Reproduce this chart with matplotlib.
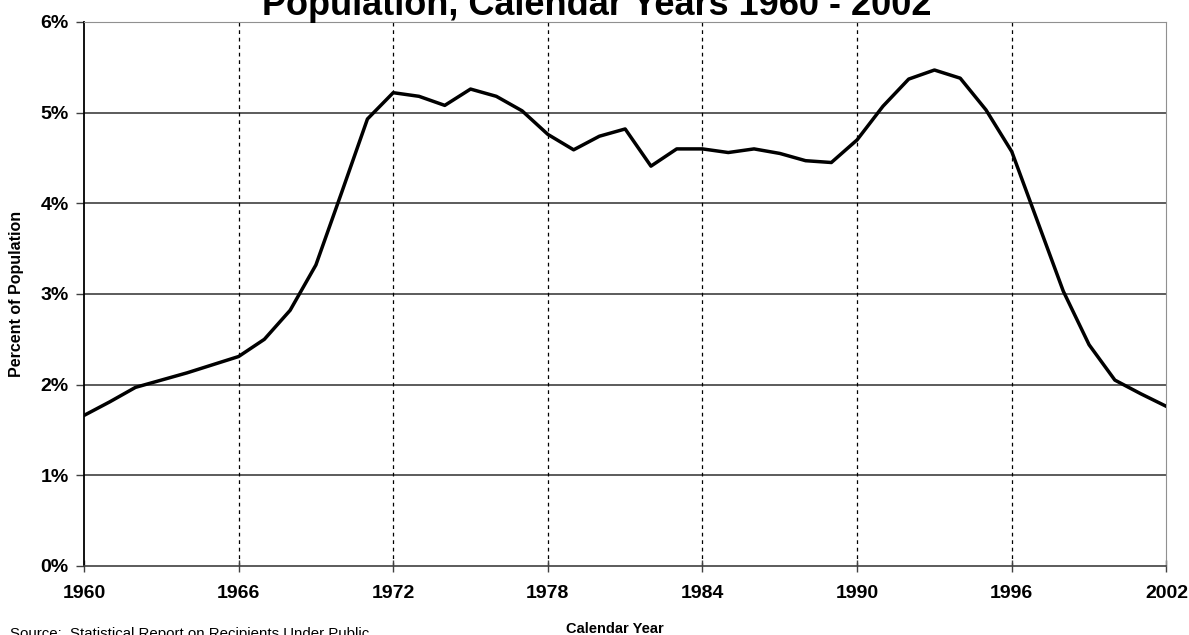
import matplotlib
matplotlib.use("Agg")
import matplotlib.pyplot as plt
from matplotlib.ticker import FuncFormatter

plt.rcParams['font.family'] = ['Liberation Sans', 'DejaVu Sans']

# share of population receiving aid, by calendar year
years = list(range(1960, 2003))
percent = [1.66, 1.81, 1.97, 2.05, 2.13, 2.22, 2.31, 2.50, 2.82, 3.32,
           4.12, 4.93, 5.22, 5.18, 5.08, 5.26, 5.18, 5.02, 4.76, 4.59,
           4.74, 4.82, 4.41, 4.60, 4.60, 4.56, 4.60, 4.55, 4.47, 4.45,
           4.70, 5.07, 5.37, 5.47, 5.38, 5.03, 4.57, 3.80, 3.03, 2.44,
           2.05, 1.90, 1.76]
x_ticks = [1960, 1966, 1972, 1978, 1984, 1990, 1996, 2002]
y_ticks = [0, 1, 2, 3, 4, 5, 6]

fig = plt.figure(figsize=(11.89, 6.35), dpi=100)
ax = fig.add_axes([0.0706, 0.1087, 0.9104, 0.8567])

# horizontal grid, solid
for v in y_ticks[1:-1]:
    ax.axhline(v, color='#404040', linewidth=1.2, zorder=1)
# vertical grid, dotted
for yr in x_ticks[1:-1]:
    ax.axvline(yr, color='black', linewidth=0.9, linestyle=(0, (3, 3)), zorder=1)

ax.plot(years, percent, color='black', linewidth=2.5, zorder=3)

ax.set_xlim(1960, 2002)
ax.set_ylim(0, 6)
ax.set_xticks(x_ticks)
ax.set_yticks(y_ticks)
ax.yaxis.set_major_formatter(FuncFormatter(lambda v, p: '%d%%' % v))

ax.tick_params(axis='x', direction='inout', length=9, width=1, color='#404040',
               pad=9, labelsize=14)
ax.tick_params(axis='y', direction='out', length=6, width=1, color='#404040',
               pad=5, labelsize=14)
for lab in ax.get_xticklabels() + ax.get_yticklabels():
    lab.set_fontweight('bold')

ax.spines['left'].set_color('black')
ax.spines['left'].set_linewidth(1.3)
ax.spines['bottom'].set_color('#404040')
ax.spines['bottom'].set_linewidth(1.2)
ax.spines['top'].set_color('#909090')
ax.spines['right'].set_color('#909090')

ax.set_ylabel('Percent of Population', fontsize=11.5, fontweight='bold', labelpad=12)

fig.text(597 / 1189, 1 - 15 / 635, 'Population, Calendar Years 1960 - 2002',
         ha='center', va='baseline', fontsize=26, fontweight='bold')
fig.text(615 / 1189, 1 - 633 / 635, 'Calendar Year', ha='center', va='baseline',
         fontsize=10.5, fontweight='bold')
fig.text(10 / 1189, 1 - 638 / 635, 'Source:  Statistical Report on Recipients Under Public',
         ha='left', va='baseline', fontsize=10.8)

fig.savefig('out.png', dpi=100)
